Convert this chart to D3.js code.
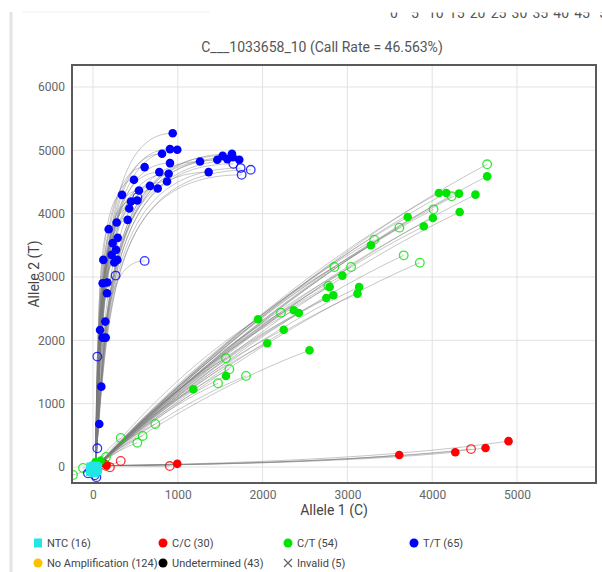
<!DOCTYPE html>
<html><head><meta charset="utf-8">
<script src="https://cdn.jsdelivr.net/npm/d3@7/dist/d3.min.js"></script>
<style>
html,body{margin:0;padding:0;background:#fff;}
svg{display:block;font-family:Roboto,"Noto Sans",sans-serif;}
</style></head>
<body><svg id="c" width="602" height="572"></svg>
<script>
// ---------- DATA ----------
const title = "C___1033658_10 (Call Rate = 46.563%)";
const xLabel = "Allele 1 (C)";
const yLabel = "Allele 2 (T)";
const xTicks = [0, 1000, 2000, 3000, 4000, 5000];
const yTicks = [0, 1000, 2000, 3000, 4000, 5000, 6000];
const topStripTicks = ["0","5","10","15","20","25","30","35","40","45","5"];

// T/T (blue) called points [Allele1, Allele2]
const ttCalled = [[940,5270],[814,4945],[908,5019],[994,5008],[908,4798],[609,4735],[782,4656],[892,4629],[873,4507],
 [483,4534],[672,4439],[763,4397],[542,4365],[342,4297],[448,4191],[523,4207],[428,4081],[279,3860],[409,3902],
 [185,3755],[291,3618],[232,3534],[271,3428],[220,3349],[287,3270],[122,3270],[251,3228],[114,2902],[169,2912],
 [165,2744],[1262,4823],[1364,4656],[1466,4850],[1529,4913],[1584,4861],[1639,4945],[1647,4893],[1725,4850],
 [145,2296],[83,2164],[114,2043],[150,2043],[98,1269],[74,679]];
// T/T (blue) unconfirmed (open) points
const ttOpen = [[1655,4787],[1741,4719],[1753,4613],[1860,4692],[609,3254],[267,3022],[523,4260],[51,1743],[51,295],
 [-30,-60],[20,-130],[-60,-100],[40,-160]];
// C/T (green) called
const ctCalled = [[4648,4589],[4079,4326],[4166,4326],[4316,4316],[4510,4300],[4324,4026],[3711,3947],[4008,3932],
 [3901,3800],[3277,3500],[2941,3021],[2791,2842],[2751,2668],[2834,2711],[3138,2842],[3119,2737],[2368,2474],
 [2427,2432],[2249,2168],[2553,1842],[1946,2333],[2055,1954],[1568,1438],[1183,1227],[60,60],[90,100],[30,80]];
// C/T (green) open
const ctOpen = [[4648,4779],[4229,4274],[4016,4068],[3613,3779],[3316,3589],[3664,3342],[3854,3226],[2846,3158],
 [3043,3158],[2775,2858],[2217,2437],[1568,1717],[1608,1543],[1474,1322],[1804,1438],[735,679],[586,490],
 [523,384],[327,458],[153,158],[-118,-16],[-236,-126]];
// C/C (red) called
const ccCalled = [[994,50],[3611,190],[4272,234],[4629,299],[4900,408],[130,60],[160,30]];
// C/C (red) open
const ccOpen = [[905,15],[4458,283],[327,95],[200,-5],[150,20]];
// NTC (cyan squares)
const ntc = [[0,0],[20,-20],[-10,-10],[40,0],[10,-60],[-20,-40],[50,-30],[30,10],[0,-80],[45,-60],[15,-90],
 [-30,-70],[25,-45],[55,-10],[-25,0],[10,15]];

// legend
const legendNames = ["NTC (16)","C/C (30)","C/T (54)","T/T (65)","No Amplification (124)","Undetermined (43)","Invalid (5)"];

// ---------- STYLE ----------
const colors = {tt:"#0000ff", ct:"#00e600", cc:"#ff0000", ntc:"#22e6e6", noamp:"#ffc000", und:"#000000", inv:"#666"};

const svg = d3.select("#c");
const L=72,R=596,T=65,B=483;
const x = d3.scaleLinear().domain([-247.6, 5931.6]).range([L,R]);
const y = d3.scaleLinear().domain([-252.6, 6347]).range([B,T]);

// page decorations
svg.append("line").attr("x1",11).attr("x2",11).attr("y1",12).attr("y2",572)
  .attr("stroke","#e4e4e4").attr("stroke-width",3);
svg.append("line").attr("x1",22).attr("x2",210).attr("y1",12).attr("y2",12)
  .attr("stroke","#f3f3f3").attr("stroke-width",1);

// clipped strip of ticks at top right
const defs = svg.append("defs");
defs.append("clipPath").attr("id","topclip").append("rect").attr("x",300).attr("y",12.5).attr("width",302).attr("height",20);
defs.append("clipPath").attr("id","plotclip").append("rect").attr("x",L).attr("y",T).attr("width",R-L).attr("height",B-T);
const strip = d3.scaleLinear().domain([0,50]).range([394,603]);
const sg = svg.append("g").attr("clip-path","url(#topclip)");
sg.selectAll("text").data(topStripTicks).join("text")
  .attr("x",(d,i)=>strip(i*5)).attr("y",17.5).attr("text-anchor","middle")
  .attr("font-size",14).attr("fill","#555").text(d=>d);

// title
svg.append("text").attr("x",322).attr("y",52).attr("text-anchor","middle")
  .attr("font-size",14).attr("fill","#555").text(title);

// grid
const grid = svg.append("g");
grid.selectAll(".gx").data(xTicks).join("line").attr("x1",d=>x(d)).attr("x2",d=>x(d))
  .attr("y1",T).attr("y2",B).attr("stroke","#e2e2e2").attr("stroke-width",1);
grid.selectAll(".gy").data(yTicks).join("line").attr("y1",d=>y(d)).attr("y2",d=>y(d))
  .attr("x1",L).attr("x2",R).attr("stroke","#e2e2e2").attr("stroke-width",1);

// axes
const ax = svg.append("g").attr("transform",`translate(0,${B})`)
  .call(d3.axisBottom(x).tickValues(xTicks).tickSize(0).tickPadding(7).tickFormat(d3.format("d")));
const ay = svg.append("g").attr("transform",`translate(${L},0)`)
  .call(d3.axisLeft(y).tickValues(yTicks).tickSize(0).tickPadding(7).tickFormat(d3.format("d")));
[ax,ay].forEach(a=>{a.select(".domain").remove();
  a.selectAll("text").attr("font-size",12).attr("fill","#666").attr("font-family","Roboto,sans-serif");});

svg.append("text").attr("x",(L+R)/2).attr("y",515).attr("text-anchor","middle")
  .attr("font-size",14).attr("fill","#444").text(xLabel);
svg.append("text").attr("transform",`translate(39,${(T+B)/2}) rotate(-90)`).attr("text-anchor","middle")
  .attr("font-size",14).attr("fill","#444").text(yLabel);

// trajectories
const plot = svg.append("g").attr("clip-path","url(#plotclip)");
const lines = plot.append("g");
function traj(p, kind){
  const [X,Y]=p; const path=d3.path();
  if(kind==="tt"){
    path.moveTo(x(30),y(0));
    path.bezierCurveTo(x(35+0.08*X),y(0.6*Y),x(Math.min(0.1*X+70,X)),y(Y),x(X),y(Y));
  } else if(kind==="ct"){
    path.moveTo(x(60),y(30));
    path.bezierCurveTo(x(0.33*X),y(0.42*Y),x(0.68*X),y(0.78*Y),x(X),y(Y));
  } else {
    path.moveTo(x(60),y(20));
    path.bezierCurveTo(x(0.35*X),y(0.08*Y+20),x(0.72*X),y(0.35*Y),x(X),y(Y));
  }
  return path.toString();
}
const allTraj = [].concat(
  ccCalled.concat(ccOpen).map(p=>({p,k:"cc"})),
  ctCalled.concat(ctOpen).map(p=>({p,k:"ct"})),
  ttCalled.concat(ttOpen).map(p=>({p,k:"tt"})));
lines.selectAll("path").data(allTraj).join("path")
  .attr("d",d=>traj(d.p,d.k)).attr("fill","none")
  .attr("stroke","#7a7a7a").attr("stroke-opacity",0.42).attr("stroke-width",1);

// points
const pts = plot.append("g");
function drawPts(data, col, filled){
  pts.append("g").selectAll("circle").data(data).join("circle")
    .attr("cx",d=>x(d[0])).attr("cy",d=>y(d[1])).attr("r",4.3)
    .attr("fill",filled?col:"none").attr("stroke",col).attr("stroke-width",filled?0:1.3)
    .attr("stroke-opacity",filled?1:0.8);
}
drawPts(ccOpen,colors.cc,false); drawPts(ccCalled,colors.cc,true);
drawPts(ctOpen,colors.ct,false); drawPts(ctCalled,colors.ct,true);
drawPts(ttOpen,colors.tt,false); drawPts(ttCalled,colors.tt,true);
pts.append("g").selectAll("rect").data(ntc).join("rect")
  .attr("x",d=>x(d[0])-4.5).attr("y",d=>y(d[1])-4.5).attr("width",9).attr("height",9)
  .attr("fill",colors.ntc);

// frame
svg.append("rect").attr("x",L).attr("y",T).attr("width",R-L).attr("height",B-T)
  .attr("fill","none").attr("stroke","#5a5a5a").attr("stroke-width",2);

// legend
const legPos = [[38,543],[163,543],[288,543],[414,543],[38,563],[163,563],[288,563]];
const legKeys = ["ntc","cc","ct","tt","noamp","und","inv"];
const lg = svg.append("g");
legKeys.forEach((k,i)=>{
  const [lx,ly]=legPos[i];
  if(k==="ntc") lg.append("rect").attr("x",lx-4).attr("y",ly-4.5).attr("width",8).attr("height",9).attr("fill",colors.ntc);
  else if(k==="inv"){
    lg.append("path").attr("d",`M${lx-4},${ly-4}L${lx+4},${ly+4}M${lx+4},${ly-4}L${lx-4},${ly+4}`)
      .attr("stroke","#666").attr("stroke-width",1.3);
  } else lg.append("circle").attr("cx",lx).attr("cy",ly).attr("r",4.5).attr("fill",colors[k]);
  lg.append("text").attr("x",lx+9).attr("y",ly+4).attr("font-size",11).attr("fill","#444").text(legendNames[i]);
});
</script></body></html>
